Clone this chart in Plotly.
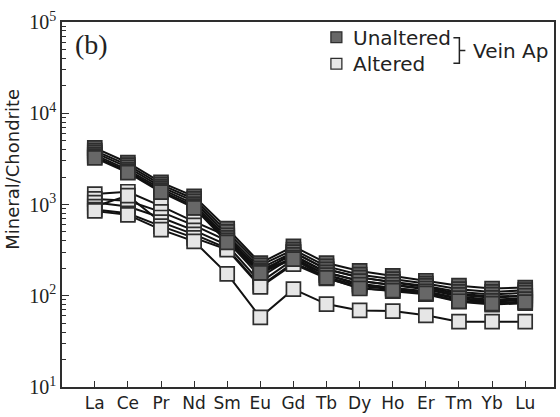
import plotly.graph_objects as go

# Rare earth elements (x axis)
elements = ["La", "Ce", "Pr", "Nd", "Sm", "Eu", "Gd", "Tb", "Dy", "Ho", "Er", "Tm", "Yb", "Lu"]

# Chondrite-normalised REE of unaltered vein apatite
unaltered_1 = [4170, 2870, 1750, 1230, 545, 228, 348, 228, 187, 165, 146, 129, 120, 123]
unaltered_2 = [3900, 2700, 1650, 1150, 500, 215, 320, 210, 170, 152, 136, 118, 110, 115]
unaltered_3 = [3700, 2550, 1560, 1080, 460, 200, 300, 195, 158, 142, 128, 110, 103, 108]
unaltered_4 = [3500, 2400, 1480, 1010, 430, 190, 280, 180, 145, 132, 120, 102, 95, 100]
unaltered_5 = [3350, 2300, 1410, 960, 405, 183, 262, 168, 132, 122, 112, 94, 88, 92]
unaltered_6 = [3250, 2240, 1365, 917, 385, 178, 252, 157, 120, 114, 106, 87, 82, 85]

# Chondrite-normalised REE of altered vein apatite
altered_1 = [1300, 1380, 960, 650, 450, 175, 300, 195, 160, 140, 125, 105, 98, 100]
altered_2 = [1150, 1100, 830, 590, 400, 160, 270, 180, 145, 130, 118, 98, 90, 95]
altered_3 = [1050, 950, 720, 520, 360, 140, 250, 170, 135, 122, 110, 92, 86, 90]
altered_4 = [950, 1250, 640, 470, 330, 128, 230, 160, 128, 118, 106, 88, 84, 86]
altered_5 = [880, 800, 580, 430, 320, 125, 222, 155, 122, 112, 104, 86, 80, 83]
altered_6 = [850, 770, 531, 394, 174, 58, 118, 81, 69, 68, 61, 52, 52, 52]

unaltered = [unaltered_1, unaltered_2, unaltered_3, unaltered_4, unaltered_5, unaltered_6]
altered = [altered_1, altered_2, altered_3, altered_4, altered_5, altered_6]

# Log axis ticks
y_tickvals = [10, 100, 1000, 10000, 100000]
y_ticktext = ["10<sup>1</sup>", "10<sup>2</sup>", "10<sup>3</sup>", "10<sup>4</sup>", "10<sup>5</sup>"]
y_minor = [m * 10 ** k for k in range(1, 5) for m in range(2, 10)]

DARK_FILL = "#676767"
LIGHT_FILL = "#e6e6e6"
EDGE = "#2e2e2e"
W, H = 560, 417
L, R, T, B = 62, 4, 22, 24


def px(x):
    return (x - L) / (W - L - R)


def py(y):
    return (H - B - y) / (H - T - B)


fig = go.Figure()


def add_series(values, fill):
    fig.add_trace(go.Scatter(
        x=elements, y=values, mode="lines+markers",
        line=dict(color="#111111", width=2),
        marker=dict(symbol="square", size=14, color=fill,
                    line=dict(color=EDGE, width=1.7)),
        showlegend=False, hoverinfo="skip",
    ))


for s in altered:
    add_series(s, LIGHT_FILL)
for s in unaltered:
    add_series(s, DARK_FILL)

shapes = [
    # legend swatches
    dict(type="rect", xref="paper", yref="paper", x0=px(332), x1=px(343), y0=py(43), y1=py(32),
         fillcolor=DARK_FILL, line=dict(color=EDGE, width=1.3)),
    dict(type="rect", xref="paper", yref="paper", x0=px(332), x1=px(343), y0=py(70), y1=py(59),
         fillcolor=LIGHT_FILL, line=dict(color=EDGE, width=1.3)),
    # bracket grouping both entries
    dict(type="path", xref="paper", yref="paper",
         path=(f"M {px(455)} {py(38)} L {px(461)} {py(38)} L {px(461)} {py(64)} L {px(455)} {py(64)} "
               f"M {px(461)} {py(51)} L {px(467)} {py(51)}"),
         line=dict(color="#222222", width=1.5)),
]

legend_font = dict(family="DejaVu Sans", size=20, color="#222222")
annotations = [
    dict(text="Unaltered", x=px(352), y=py(38), xref="paper", yref="paper",
         xanchor="left", yanchor="middle", showarrow=False, font=legend_font),
    dict(text="Altered", x=px(352), y=py(65), xref="paper", yref="paper",
         xanchor="left", yanchor="middle", showarrow=False, font=legend_font),
    dict(text="Vein Ap", x=px(473), y=py(51), xref="paper", yref="paper",
         xanchor="left", yanchor="middle", showarrow=False, font=legend_font),
    dict(text="(b)", x=px(73), y=py(45), xref="paper", yref="paper",
         xanchor="left", yanchor="middle", showarrow=False,
         font=dict(family="Liberation Serif", size=28, color="#222222")),
    dict(text="Mineral/Chondrite", x=px(12), y=py(172), xref="paper", yref="paper",
         xanchor="center", yanchor="middle", textangle=-90, showarrow=False,
         font=dict(family="DejaVu Sans", size=18, color="#222222")),
]

fig.update_layout(
    width=W, height=H,
    margin=dict(l=L, r=R, t=T, b=B, pad=0),
    paper_bgcolor="white", plot_bgcolor="white",
    shapes=shapes, annotations=annotations,
    xaxis=dict(
        type="category", range=[-0.99, 13.87],
        showline=True, linecolor=EDGE, linewidth=1.6, mirror=True,
        ticks="inside", ticklen=6, tickwidth=1.3, tickcolor=EDGE,
        showgrid=False, zeroline=False,
        tickfont=dict(family="DejaVu Sans", size=17, color="#222222"),
    ),
    yaxis=dict(
        type="log", range=[1, 5],
        showline=True, linecolor=EDGE, linewidth=1.6, mirror=True,
        tickvals=y_tickvals, ticktext=y_ticktext,
        ticks="inside", ticklen=7, tickwidth=1.3, tickcolor=EDGE,
        minor=dict(tickvals=y_minor, ticks="inside", ticklen=4, tickwidth=1, tickcolor=EDGE, showgrid=False),
        showgrid=False, zeroline=False,
        tickfont=dict(family="Liberation Serif", size=20, color="#222222"),
    ),
)

fig.write_html("out.html")
